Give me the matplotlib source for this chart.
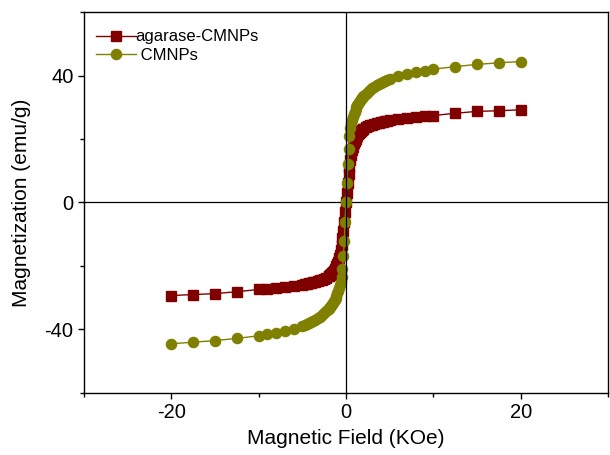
import matplotlib
matplotlib.use("Agg")
import matplotlib.pyplot as plt
from matplotlib.ticker import MultipleLocator

plt.rcParams['font.family'] = ['Liberation Sans', 'DejaVu Sans']
plt.rcParams['axes.unicode_minus'] = False

field = [-20, -17.5, -15, -12.5, -10, -9, -8, -7, -6,
         -5.0, -4.75, -4.5, -4.25, -4.0, -3.75, -3.5, -3.25, -3.0, -2.75, -2.5, -2.25,
         -2.0, -1.9, -1.8, -1.7, -1.6, -1.5, -1.4, -1.3, -1.2, -1.1, -1.0,
         -0.9, -0.8, -0.7, -0.6, -0.5, -0.4, -0.3, -0.2, -0.1, 0.0,
         0.1, 0.2, 0.3, 0.4, 0.5, 0.6, 0.7, 0.8, 0.9,
         1.0, 1.1, 1.2, 1.3, 1.4, 1.5, 1.6, 1.7, 1.8, 1.9, 2.0,
         2.25, 2.5, 2.75, 3.0, 3.25, 3.5, 3.75, 4.0, 4.25, 4.5, 4.75, 5.0,
         6, 7, 8, 9, 10, 12.5, 15, 17.5, 20]

m_cmnps = [-44.5, -44.0, -43.5, -42.8, -42.0, -41.5, -41.0, -40.4, -39.7,
           -38.9, -38.6, -38.3, -38.0, -37.7, -37.3, -36.9, -36.5, -36.0, -35.5, -34.9, -34.3,
           -33.6, -33.3, -32.9, -32.5, -32.1, -31.6, -31.1, -30.6, -30.0, -29.3, -28.6,
           -27.8, -27.0, -26.0, -25.0, -23.5, -21.0, -17.0, -12.0, -6.0, 0.0,
           6.0, 12.0, 17.0, 21.0, 23.5, 25.0, 26.0, 27.0, 27.8,
           28.6, 29.3, 30.0, 30.6, 31.1, 31.6, 32.1, 32.5, 32.9, 33.3, 33.6,
           34.3, 34.9, 35.5, 36.0, 36.5, 36.9, 37.3, 37.7, 38.0, 38.3, 38.6, 38.9,
           39.7, 40.4, 41.0, 41.5, 42.0, 42.8, 43.5, 44.0, 44.4]

m_agarase = [-29.3, -29.0, -28.7, -28.1, -27.4, -27.2, -27.0, -26.7, -26.3,
             -25.9, -25.8, -25.7, -25.5, -25.3, -25.1, -24.9, -24.7, -24.5, -24.3, -24.0, -23.7,
             -23.3, -23.1, -22.9, -22.6, -22.3, -21.9, -21.5, -21.1, -20.6, -20.0, -19.4,
             -18.6, -17.6, -16.4, -15.0, -13.3, -11.3, -9.0, -6.0, -3.0, 0.0,
             3.0, 6.0, 9.0, 11.3, 13.3, 15.0, 16.4, 17.6, 18.6,
             19.4, 20.0, 20.6, 21.1, 21.5, 21.9, 22.3, 22.6, 22.9, 23.1, 23.3,
             23.7, 24.0, 24.3, 24.5, 24.7, 24.9, 25.1, 25.3, 25.5, 25.7, 25.8, 25.9,
             26.3, 26.7, 27.0, 27.2, 27.4, 28.1, 28.7, 28.9, 29.2]

fig = plt.figure(figsize=(6.10, 4.55), dpi=100)
ax = fig.add_axes([0.1377, 0.1363, 0.8590, 0.8373])

ax.axhline(0, color='black', lw=0.9, zorder=1)
ax.axvline(0, color='black', lw=0.9, zorder=4)

ax.plot(field, m_agarase, color='#800000', marker='s', markersize=6.5, lw=1.0,
        label='agarase-CMNPs', zorder=2)
ax.plot(field, m_cmnps, color='#808000', marker='o', markersize=7.3, lw=1.0,
        label=' CMNPs', zorder=3)

ax.set_xlim(-30, 30)
ax.set_ylim(-60, 60)
ax.xaxis.set_major_locator(MultipleLocator(20))
ax.xaxis.set_minor_locator(MultipleLocator(10))
ax.yaxis.set_major_locator(MultipleLocator(40))
ax.yaxis.set_minor_locator(MultipleLocator(20))
ax.tick_params(which='major', direction='out', length=4, width=1, labelsize=14.5)
ax.tick_params(which='minor', direction='out', length=3, width=1)
for s in ax.spines.values():
    s.set_linewidth(1.0)

ax.set_xlabel('Magnetic Field (KOe)', fontsize=15, labelpad=5)
ax.set_ylabel('Magnetization (emu/g)', fontsize=15, labelpad=10)

leg = ax.legend(loc='upper left', bbox_to_anchor=(0.0, 0.985), frameon=False,
                fontsize=12, handlelength=2.4, handletextpad=0.0,
                labelspacing=0.2, borderaxespad=0.3)

fig.savefig('out.png', dpi=100)
